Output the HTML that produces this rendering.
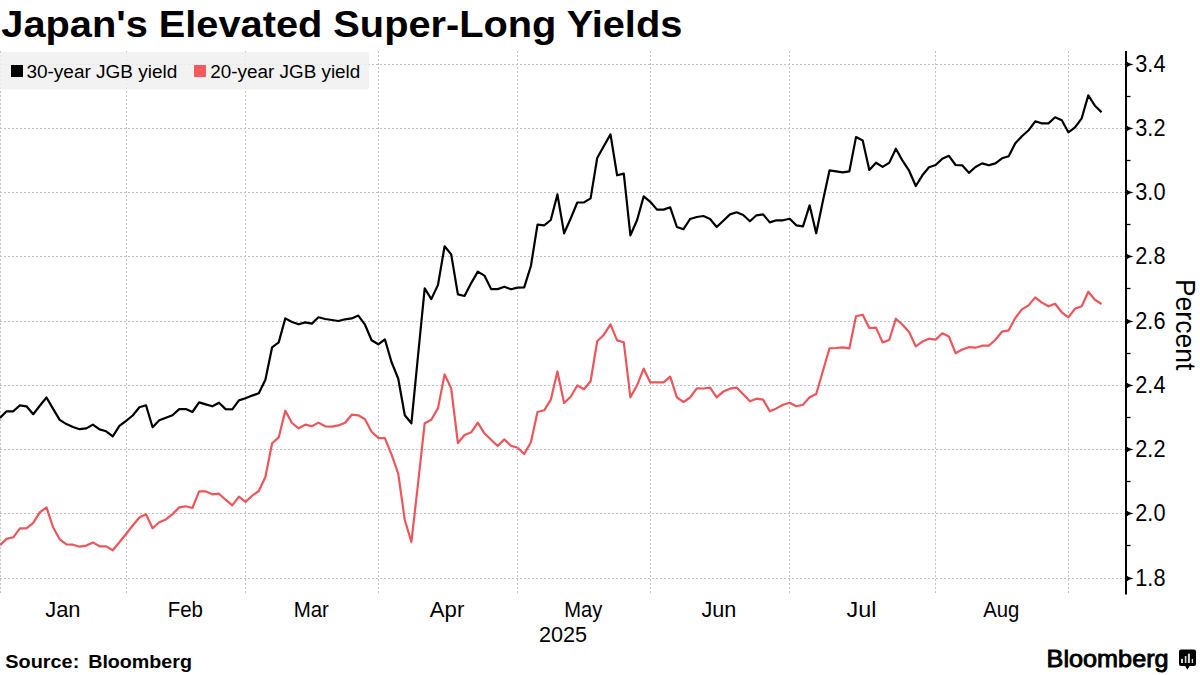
<!DOCTYPE html>
<html><head><meta charset="utf-8"><style>
html,body{margin:0;padding:0;background:#fff;}
body{width:1200px;height:675px;overflow:hidden;position:relative;font-family:"Liberation Sans",sans-serif;}
svg{position:absolute;left:0;top:0;}
.g{stroke:#c2c2c2;stroke-width:1;stroke-dasharray:2 2;}
.lg{font-family:"Liberation Sans",sans-serif;font-size:18px;fill:#000;}
.yl{font-family:"Liberation Sans",sans-serif;font-size:23px;fill:#000;}
.xl{font-family:"Liberation Sans",sans-serif;font-size:22.4px;fill:#000;}
.pc{font-family:"Liberation Sans",sans-serif;font-size:27.6px;fill:#000;}
.t{font-family:"Liberation Sans",sans-serif;font-weight:bold;font-size:36px;fill:#000;}
.src{font-family:"Liberation Sans",sans-serif;font-weight:bold;font-size:18px;fill:#000;}
.bb{font-family:"Liberation Sans",sans-serif;font-weight:normal;font-size:24px;fill:#000;stroke:#000;stroke-width:0.9px;}
</style></head><body>
<svg width="1200" height="675" viewBox="0 0 1200 675">
<text x="1.3" y="36.7" class="t" textLength="681" lengthAdjust="spacingAndGlyphs">Japan's Elevated Super-Long Yields</text>
<line x1="0" y1="64.5" x2="1126" y2="64.5" class="g"/>
<line x1="0" y1="128.5" x2="1126" y2="128.5" class="g"/>
<line x1="0" y1="192.5" x2="1126" y2="192.5" class="g"/>
<line x1="0" y1="256.5" x2="1126" y2="256.5" class="g"/>
<line x1="0" y1="321.5" x2="1126" y2="321.5" class="g"/>
<line x1="0" y1="385.5" x2="1126" y2="385.5" class="g"/>
<line x1="0" y1="449.5" x2="1126" y2="449.5" class="g"/>
<line x1="0" y1="513.5" x2="1126" y2="513.5" class="g"/>
<line x1="0" y1="578.5" x2="1126" y2="578.5" class="g"/>
<line x1="0.5" y1="51" x2="0.5" y2="594" class="g"/>
<line x1="126.5" y1="51" x2="126.5" y2="594" class="g"/>
<line x1="245.5" y1="51" x2="245.5" y2="594" class="g"/>
<line x1="378.5" y1="51" x2="378.5" y2="594" class="g"/>
<line x1="517.5" y1="51" x2="517.5" y2="594" class="g"/>
<line x1="650.5" y1="51" x2="650.5" y2="594" class="g"/>
<line x1="789.5" y1="51" x2="789.5" y2="594" class="g"/>
<line x1="935.5" y1="51" x2="935.5" y2="594" class="g"/>
<line x1="1068.5" y1="51" x2="1068.5" y2="594" class="g"/>
<rect x="0" y="52" width="369" height="37.5" rx="2" fill="#f0f0f0" fill-opacity="0.85"/>
<rect x="11" y="65" width="12" height="12" fill="#000"/>
<rect x="194" y="65" width="12" height="12" fill="#f45a5e"/>
<text x="26.4" y="77.8" class="lg" textLength="151" lengthAdjust="spacingAndGlyphs">30-year JGB yield</text>
<text x="210.3" y="77.8" class="lg" textLength="150" lengthAdjust="spacingAndGlyphs">20-year JGB yield</text>
<polyline points="0.0,545.1 6.6,538.9 13.3,537.3 19.9,528.3 26.5,528.3 33.2,522.9 39.8,512.3 46.5,507.3 53.1,527.3 59.7,539.3 66.4,544.3 73.0,544.7 79.6,546.7 86.3,545.6 92.9,542.4 99.5,546.3 106.2,546.4 112.8,550.3 119.4,542.3 126.1,534.0 132.7,525.5 139.4,517.5 146.0,514.3 152.6,528.2 159.3,522.2 165.9,519.4 172.5,514.1 179.2,507.4 185.8,506.3 192.4,508.0 199.1,491.3 205.7,491.4 212.4,494.3 219.0,493.7 225.6,499.7 232.3,505.4 238.9,496.6 245.5,501.9 252.2,495.7 258.8,491.0 265.4,477.0 272.1,443.3 278.7,437.4 285.3,410.7 292.0,423.0 298.6,428.3 305.3,424.6 311.9,426.3 318.5,422.6 325.2,426.3 331.8,426.6 338.4,425.4 345.1,422.7 351.7,414.7 358.3,415.3 365.0,419.3 371.6,431.7 378.3,437.9 384.9,438.1 391.5,454.3 398.2,473.5 404.8,520.0 411.4,542.0 418.1,483.0 424.7,423.2 431.3,419.8 438.0,408.1 444.6,374.4 451.2,388.4 457.9,443.0 464.5,435.0 471.2,432.3 477.8,422.6 484.4,433.3 491.1,439.7 497.7,446.0 504.3,439.4 511.0,445.7 517.6,447.7 524.2,454.0 530.9,442.3 537.5,412.0 544.2,410.3 550.8,399.7 557.4,371.4 564.1,403.0 570.7,396.8 577.3,385.5 584.0,389.3 590.6,381.3 597.2,341.3 603.9,334.7 610.5,324.4 617.1,340.4 623.8,342.3 630.4,397.3 637.1,385.3 643.7,368.7 650.3,382.4 657.0,382.4 663.6,382.4 670.2,376.7 676.9,397.3 683.5,402.0 690.1,397.5 696.8,388.4 703.4,388.5 710.1,387.6 716.7,397.3 723.3,391.6 730.0,388.7 736.6,387.6 743.2,394.3 749.9,401.3 756.5,398.7 763.1,399.6 769.8,411.3 776.4,408.4 783.0,404.7 789.7,402.7 796.3,406.3 803.0,404.7 809.6,397.3 816.2,394.0 822.9,371.0 829.5,348.3 836.1,348.0 842.8,347.3 849.4,348.3 856.0,316.3 862.7,314.7 869.3,328.0 876.0,327.6 882.6,342.4 889.2,340.0 895.9,318.7 902.5,324.7 909.1,332.0 915.8,346.4 922.4,341.6 929.0,338.7 935.7,339.6 942.3,333.3 948.9,336.5 955.6,353.2 962.2,349.5 968.9,347.2 975.5,347.7 982.1,345.7 988.8,345.7 995.4,339.7 1002.0,331.7 1008.7,330.3 1015.3,318.0 1021.9,309.4 1028.6,305.4 1035.2,297.4 1041.9,302.6 1048.5,306.3 1055.1,303.7 1061.8,312.3 1068.4,317.4 1075.0,308.6 1081.7,306.3 1088.3,291.7 1094.9,299.7 1101.6,304.0" fill="none" stroke="#ec565b" stroke-width="2.2" stroke-linejoin="round"/>
<polyline points="0.0,417.9 6.6,411.3 13.3,411.3 19.9,405.4 26.5,406.3 33.2,414.2 39.8,405.8 46.5,397.5 53.1,408.9 59.7,419.9 66.4,424.1 73.0,427.0 79.6,429.2 86.3,428.4 92.9,424.6 99.5,429.4 106.2,431.3 112.8,436.4 119.4,425.9 126.1,420.8 132.7,415.5 139.4,407.3 146.0,405.3 152.6,427.3 159.3,420.3 165.9,417.7 172.5,415.3 179.2,409.1 185.8,409.1 192.4,412.0 199.1,402.4 205.7,404.4 212.4,406.3 219.0,402.7 225.6,409.1 232.3,409.3 238.9,400.4 245.5,398.3 252.2,395.6 258.8,393.3 265.4,379.8 272.1,347.3 278.7,342.4 285.3,318.4 292.0,322.0 298.6,324.3 305.3,322.4 311.9,323.6 318.5,317.3 325.2,319.0 331.8,320.0 338.4,321.0 345.1,319.3 351.7,318.4 358.3,315.6 365.0,324.7 371.6,340.2 378.3,344.3 384.9,339.4 391.5,362.0 398.2,378.5 404.8,415.2 411.4,423.3 418.1,355.0 424.7,288.3 431.3,299.1 438.0,284.9 444.6,246.3 451.2,254.4 457.9,294.4 464.5,296.0 471.2,283.1 477.8,271.6 484.4,275.6 491.1,289.1 497.7,289.1 504.3,286.7 511.0,289.3 517.6,287.6 524.2,287.3 530.9,266.0 537.5,224.7 544.2,225.3 550.8,220.0 557.4,194.4 564.1,233.3 570.7,218.5 577.3,202.5 584.0,202.4 590.6,198.4 597.2,158.0 603.9,146.0 610.5,134.4 617.1,175.3 623.8,173.6 630.4,235.3 637.1,220.0 643.7,196.4 650.3,201.8 657.0,209.6 663.6,209.6 670.2,207.3 676.9,227.0 683.5,229.2 690.1,219.0 696.8,217.0 703.4,216.0 710.1,219.0 716.7,227.0 723.3,220.7 730.0,214.4 736.6,212.3 743.2,215.0 749.9,221.3 756.5,215.3 763.1,214.4 769.8,222.4 776.4,220.3 783.0,220.3 789.7,218.7 796.3,225.3 803.0,226.3 809.6,205.3 816.2,233.3 822.9,201.0 829.5,170.4 836.1,171.3 842.8,172.4 849.4,171.3 856.0,137.1 862.7,140.4 869.3,170.0 876.0,162.7 882.6,166.9 889.2,162.9 895.9,148.7 902.5,160.7 909.1,170.7 915.8,186.0 922.4,175.3 929.0,167.3 935.7,165.0 942.3,158.7 948.9,155.8 955.6,165.0 962.2,165.3 968.9,172.8 975.5,167.0 982.1,163.4 988.8,165.3 995.4,163.4 1002.0,158.3 1008.7,156.3 1015.3,143.3 1021.9,136.3 1028.6,130.3 1035.2,121.3 1041.9,123.4 1048.5,123.4 1055.1,117.3 1061.8,120.3 1068.4,132.3 1075.0,127.4 1081.7,118.3 1088.3,95.4 1094.9,105.7 1101.6,112.3" fill="none" stroke="#000" stroke-width="2.2" stroke-linejoin="round"/>
<line x1="1126" y1="51" x2="1126" y2="594.5" stroke="#000" stroke-width="2"/>
<path d="M1126 60.9 Q1128.5 63.6 1133.6 64.5 Q1128.5 65.4 1126 68.1 Z" fill="#000"/>
<text x="1135.3" y="72.3" class="yl" textLength="30.2" lengthAdjust="spacingAndGlyphs">3.4</text>
<line x1="1126" y1="96.5" x2="1130.5" y2="96.5" stroke="#000" stroke-width="1.3"/>
<path d="M1126 124.9 Q1128.5 127.6 1133.6 128.5 Q1128.5 129.4 1126 132.1 Z" fill="#000"/>
<text x="1135.3" y="136.3" class="yl" textLength="30.2" lengthAdjust="spacingAndGlyphs">3.2</text>
<line x1="1126" y1="160.5" x2="1130.5" y2="160.5" stroke="#000" stroke-width="1.3"/>
<path d="M1126 188.9 Q1128.5 191.6 1133.6 192.5 Q1128.5 193.4 1126 196.1 Z" fill="#000"/>
<text x="1135.3" y="200.3" class="yl" textLength="30.2" lengthAdjust="spacingAndGlyphs">3.0</text>
<line x1="1126" y1="224.5" x2="1130.5" y2="224.5" stroke="#000" stroke-width="1.3"/>
<path d="M1126 252.9 Q1128.5 255.6 1133.6 256.5 Q1128.5 257.4 1126 260.1 Z" fill="#000"/>
<text x="1135.3" y="264.3" class="yl" textLength="30.2" lengthAdjust="spacingAndGlyphs">2.8</text>
<line x1="1126" y1="288.5" x2="1130.5" y2="288.5" stroke="#000" stroke-width="1.3"/>
<path d="M1126 317.9 Q1128.5 320.6 1133.6 321.5 Q1128.5 322.4 1126 325.1 Z" fill="#000"/>
<text x="1135.3" y="329.3" class="yl" textLength="30.2" lengthAdjust="spacingAndGlyphs">2.6</text>
<line x1="1126" y1="353.5" x2="1130.5" y2="353.5" stroke="#000" stroke-width="1.3"/>
<path d="M1126 381.9 Q1128.5 384.6 1133.6 385.5 Q1128.5 386.4 1126 389.1 Z" fill="#000"/>
<text x="1135.3" y="393.3" class="yl" textLength="30.2" lengthAdjust="spacingAndGlyphs">2.4</text>
<line x1="1126" y1="417.5" x2="1130.5" y2="417.5" stroke="#000" stroke-width="1.3"/>
<path d="M1126 445.9 Q1128.5 448.6 1133.6 449.5 Q1128.5 450.4 1126 453.1 Z" fill="#000"/>
<text x="1135.3" y="457.3" class="yl" textLength="30.2" lengthAdjust="spacingAndGlyphs">2.2</text>
<line x1="1126" y1="481.5" x2="1130.5" y2="481.5" stroke="#000" stroke-width="1.3"/>
<path d="M1126 509.9 Q1128.5 512.6 1133.6 513.5 Q1128.5 514.4 1126 517.1 Z" fill="#000"/>
<text x="1135.3" y="521.3" class="yl" textLength="30.2" lengthAdjust="spacingAndGlyphs">2.0</text>
<line x1="1126" y1="545.5" x2="1130.5" y2="545.5" stroke="#000" stroke-width="1.3"/>
<path d="M1126 574.9 Q1128.5 577.6 1133.6 578.5 Q1128.5 579.4 1126 582.1 Z" fill="#000"/>
<text x="1135.3" y="586.3" class="yl" textLength="30.2" lengthAdjust="spacingAndGlyphs">1.8</text>
<text x="45.2" y="617.4" class="xl" textLength="35.4" lengthAdjust="spacingAndGlyphs">Jan</text>
<text x="167.7" y="617.4" class="xl" textLength="35.2" lengthAdjust="spacingAndGlyphs">Feb</text>
<text x="293.7" y="617.4" class="xl" textLength="35.2" lengthAdjust="spacingAndGlyphs">Mar</text>
<text x="429.8" y="617.4" class="xl" textLength="34.5" lengthAdjust="spacingAndGlyphs">Apr</text>
<text x="564.3" y="617.4" class="xl" textLength="38.0" lengthAdjust="spacingAndGlyphs">May</text>
<text x="701.5" y="617.4" class="xl" textLength="34.9" lengthAdjust="spacingAndGlyphs">Jun</text>
<text x="846.5" y="617.4" class="xl" textLength="29.9" lengthAdjust="spacingAndGlyphs">Jul</text>
<text x="983.2" y="617.4" class="xl" textLength="36.1" lengthAdjust="spacingAndGlyphs">Aug</text>
<text x="539" y="641.8" class="xl" textLength="48" lengthAdjust="spacingAndGlyphs">2025</text>
<text transform="translate(1176.3,278.9) rotate(90)" class="pc" textLength="91.5" lengthAdjust="spacingAndGlyphs">Percent</text>
<text x="5.3" y="667.6" class="src" textLength="74" lengthAdjust="spacingAndGlyphs">Source:</text><text x="88.2" y="667.6" class="src" textLength="103.8" lengthAdjust="spacingAndGlyphs">Bloomberg</text>
<text x="1046.6" y="666.7" class="bb" textLength="122" lengthAdjust="spacingAndGlyphs">Bloomberg</text>
<g>
<path d="M1181 649.6 H1194 Q1196 649.6 1196 651.6 V664 Q1196 666 1194 666 H1189.6 L1187.4 669.8 L1185.2 666 H1181 Q1179 666 1179 664 V651.6 Q1179 649.6 1181 649.6 Z" fill="#000"/>
<rect x="1181" y="658.9" width="2" height="4.1" fill="#dcdcdc"/>
<rect x="1184.8" y="656" width="1.6" height="7" fill="#dcdcdc"/>
<rect x="1187.9" y="653.7" width="2" height="9.3" fill="#dcdcdc"/>
<rect x="1191.7" y="658.9" width="1.4" height="4.1" fill="#dcdcdc"/>
</g>
</svg>
</body></html>
